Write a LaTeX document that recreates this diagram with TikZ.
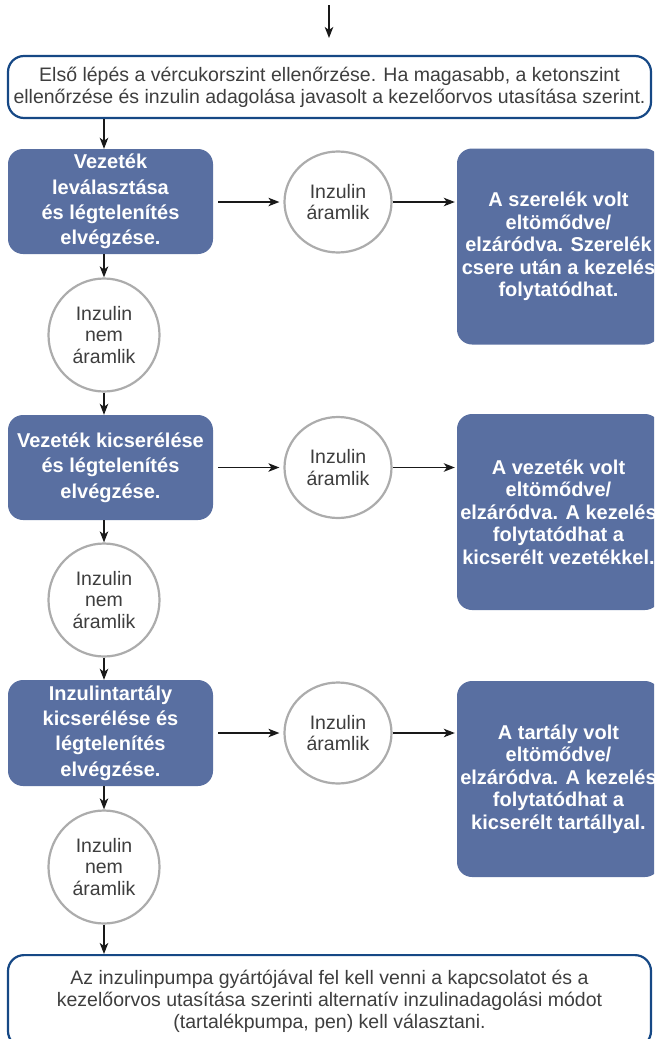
\documentclass[tikz,border=0pt]{standalone}
\usepackage{fontspec}
\setmainfont{Liberation Sans}
\usetikzlibrary{arrows.meta,shapes.geometric}
\definecolor{boxblue}{RGB}{89,111,161}
\definecolor{edgeblue}{RGB}{22,72,133}
\definecolor{circgray}{RGB}{172,172,172}
\definecolor{txtgray}{RGB}{62,62,62}
\begin{document}
\begin{tikzpicture}[x=1pt,y=-1pt,
  arr/.style={-{Stealth[length=11pt,width=8.5pt,inset=3pt]}, line width=1.4pt, draw=black!90},
  bluebox/.style={fill=boxblue, rounded corners=15pt, text=white, align=center,
    font=\bfseries\fontsize{20}{25.3}\selectfont, minimum width=205pt, inner sep=0pt},
  resultbox/.style={fill=boxblue, rounded corners=15pt, text=white, align=center,
    font=\bfseries\fontsize{20}{22.5}\selectfont, minimum width=203pt, minimum height=196pt, inner sep=0pt},
  outlinebox/.style={draw=edgeblue, line width=2.2pt, rounded corners=16pt, text=txtgray, align=center,
    font=\fontsize{19.5}{21.8}\selectfont, minimum width=643pt},
  bubble/.style={ellipse, draw=circgray, line width=2.2pt, fill=white, text=txtgray, align=center,
    inner sep=0pt, font=\fontsize{19.5}{21.5}\selectfont},
  leftbubble/.style={bubble, minimum width=111pt, minimum height=113pt},
  midbubble/.style={bubble, minimum width=107pt, minimum height=101pt},
]
\useasboundingbox (0,0) rectangle (654,1039);
\begin{scope}
\clip (0,0) rectangle (654,1039);

\coordinate (in0) at (329,5);
\coordinate (in1) at (329,38);

\node[outlinebox, minimum height=62pt] (top) at (329.5,87)
  {Első lépés a vércukorszint ellenőrzése. Ha magasabb, a ketonszint\\ellenőrzése és inzulin adagolása javasolt a kezelőorvos utasítása szerint.};

% row 1
\node[bluebox, minimum height=105pt] (b1) at (110.5,201.5) {Vezeték\\leválasztása\\és légtelenítés\\elvégzése.};
\node[midbubble] (m1) at (338,202) {Inzulin\\áramlik};
\node[resultbox] (r1) at (558.5,246.5) {A szerelék volt\\eltömődve/\\elzáródva. Szerelék\\csere után a kezelés\\folytatódhat.};
\node[leftbubble] (n1) at (104,335) {Inzulin\\nem\\áramlik};

% row 2
\node[bluebox, minimum height=105pt] (b2) at (110.5,467.5) {Vezeték kicserélése\\és légtelenítés\\elvégzése.};
\node[midbubble] (m2) at (338,467.5) {Inzulin\\áramlik};
\node[resultbox] (r2) at (558.5,512) {A vezeték volt\\eltömődve/\\elzáródva. A kezelés\\folytatódhat a\\kicserélt vezetékkel.};
\node[leftbubble] (n2) at (104,600) {Inzulin\\nem\\áramlik};

% row 3
\node[bluebox, minimum height=106pt] (b3) at (110.5,733) {Inzulintartály\\kicserélése és\\légtelenítés\\elvégzése.};
\node[midbubble] (m3) at (338,733) {Inzulin\\áramlik};
\node[resultbox] (r3) at (558.5,779) {A tartály volt\\eltömődve/\\elzáródva. A kezelés\\folytatódhat a\\kicserélt tartállyal.};
\node[leftbubble] (n3) at (104,867) {Inzulin\\nem\\áramlik};

\node[outlinebox, anchor=north, inner ysep=15pt] (fin) at (329.5,954)
  {Az inzulinpumpa gyártójával fel kell venni a kapcsolatot és a\\kezelőorvos utasítása szerinti alternatív inzulinadagolási módot\\(tartalékpumpa, pen) kell választani.};

% connectors
\draw[arr] (in0) -- (in1);
\draw[arr] (top.south -| n1) -- (b1.north -| n1);
\foreach \i/\j in {1/2,2/3} {
  \draw[arr] (n\i.south) -- (b\j.north -| n\i);
}
\foreach \i in {1,2,3} {
  \draw[arr] (b\i.south -| n\i) -- (n\i.north);
  \draw[arr, shorten <=5pt, shorten >=4pt] (b\i.east |- m\i.west) -- (m\i.west);
  \draw[arr, shorten >=2pt] (m\i.east) -- (r\i.west |- m\i.east);
}
\draw[arr] (n3.south) -- (fin.north -| n3);
\end{scope}
\end{tikzpicture}
\end{document}
